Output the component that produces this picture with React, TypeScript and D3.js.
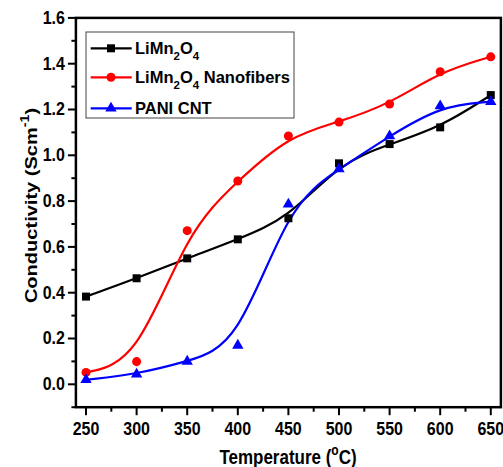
import React from "react";
import * as d3 from "d3";

const W = 503;
const H = 467;
const FONT = "'Liberation Sans', Arial, sans-serif";

// temperature (°C)
const temps = [250, 300, 350, 400, 450, 500, 550, 600, 650];
// conductivity (S cm^-1)
const limn2o4 = [0.383, 0.463, 0.55, 0.633, 0.725, 0.965, 1.049, 1.122, 1.263];
const nanofibers = [0.052, 0.099, 0.671, 0.888, 1.084, 1.145, 1.224, 1.365, 1.43];
const paniCnt = [0.02, 0.044, 0.1, 0.17, 0.786, 0.94, 1.084, 1.215, 1.234];

const xTicks = [250, 300, 350, 400, 450, 500, 550, 600, 650];
const yTicks = [0.0, 0.2, 0.4, 0.6, 0.8, 1.0, 1.2, 1.4, 1.6];

const series = [
  { key: "limn", values: limn2o4, color: "#000000", symbol: d3.symbolSquare, size: 64 },
  { key: "nano", values: nanofibers, color: "#ff0000", symbol: d3.symbolCircle, size: 64 },
  { key: "pani", values: paniCnt, color: "#0000ff", symbol: d3.symbolTriangle, size: 56 },
];

const x = d3.scaleLinear().domain([240, 660]).range([75.9, 500.9]);
const y = d3.scaleLinear().domain([-0.1, 1.6]).range([407.2, 17.9]);

const xMinor = d3.range(275, 650, 50);
const yMinor = d3.range(-0.1, 1.6, 0.2);

const App = () => {
  const line = d3
    .line<[number, number]>()
    .x((d) => x(d[0]))
    .y((d) => y(d[1]))
    .curve(d3.curveBasis);

  const sym = (s: typeof series[number]) => d3.symbol().type(s.symbol).size(s.size)() || "";

  const legendRows = [
    { s: series[0], label: (
      <>LiMn<tspan fontSize={11.5} dy={6}>2</tspan><tspan dy={-6}>O</tspan><tspan fontSize={11.5} dy={6}>4</tspan></>
    ) },
    { s: series[1], label: (
      <>LiMn<tspan fontSize={11.5} dy={6}>2</tspan><tspan dy={-6}>O</tspan><tspan fontSize={11.5} dy={6}>4</tspan><tspan dy={-6}> Nanofibers</tspan></>
    ) },
    { s: series[2], label: <>PANI CNT</> },
  ];
  const legendY = [48.3, 77.3, 108.3];

  return (
    <div style={{ position: "absolute", left: 0, top: 0 }}>
      <svg width={W} height={H} fontFamily={FONT} fontWeight="bold">
        <rect width={W} height={H} fill="#ffffff" />

        {/* curves */}
        {series.map((s) => (
          <path
            key={s.key + "-line"}
            d={line(temps.map((t, i) => [t, s.values[i]] as [number, number])) || ""}
            fill="none"
            stroke={s.color}
            strokeWidth={2.2}
          />
        ))}
        {series.map((s) =>
          temps.map((t, i) => (
            <path
              key={s.key + "-pt-" + t}
              d={sym(s)}
              transform={`translate(${x(t)},${y(s.values[i])})`}
              fill={s.color}
            />
          ))
        )}

        {/* frame */}
        <rect
          x={x(240)}
          y={y(1.6)}
          width={x(660) - x(240)}
          height={y(-0.1) - y(1.6)}
          fill="none"
          stroke="#000"
          strokeWidth={2.5}
        />

        {/* y axis */}
        {yTicks.map((v) => (
          <g key={"yt" + v}>
            <line x1={x(240) - 8} x2={x(240)} y1={y(v)} y2={y(v)} stroke="#000" strokeWidth={2} />
            <text
              transform={`translate(${x(240) - 11},${y(v) + 5.8}) scale(1,1.12)`}
              textAnchor="end"
              fontSize={16}
            >
              {v.toFixed(1)}
            </text>
          </g>
        ))}
        {yMinor.map((v) => (
          <line key={"ym" + v} x1={x(240) - 4.5} x2={x(240)} y1={y(v)} y2={y(v)} stroke="#000" strokeWidth={2} />
        ))}

        {/* x axis */}
        {xTicks.map((v) => (
          <g key={"xt" + v}>
            <line x1={x(v)} x2={x(v)} y1={y(-0.1)} y2={y(-0.1) + 8} stroke="#000" strokeWidth={2} />
            <text
              transform={`translate(${x(v)},${435}) scale(1,1.12)`}
              textAnchor="middle"
              fontSize={16}
            >
              {v}
            </text>
          </g>
        ))}
        {xMinor.map((v) => (
          <line key={"xm" + v} x1={x(v)} x2={x(v)} y1={y(-0.1)} y2={y(-0.1) + 4.5} stroke="#000" strokeWidth={2} />
        ))}

        {/* axis titles */}
        <text transform={`translate(288,464) scale(1,1.15)`} textAnchor="middle" fontSize={17}>
          Temperature (<tspan fontSize={12} dy={-8}>o</tspan>
          <tspan dy={8}>C)</tspan>
        </text>
        <text transform={`translate(36.5,205.5) scale(1,1.18) rotate(-90)`} textAnchor="middle" fontSize={17}>
          Conductivity (Scm<tspan fontSize={12} dy={-8}>-1</tspan>
          <tspan dy={8}>)</tspan>
        </text>

        {/* legend */}
        <rect x={86} y={32} width={208} height={86} fill="#fff" stroke="#444" strokeWidth={1} />
        {legendRows.map((r, i) => (
          <g key={"lg" + i}>
            <line x1={90.7} x2={131.7} y1={legendY[i]} y2={legendY[i]} stroke={r.s.color} strokeWidth={2.2} />
            <path d={sym(r.s)} transform={`translate(111,${legendY[i]})`} fill={r.s.color} />
            <text x={135} y={legendY[i] + 5.5} fontSize={16.5}>
              {r.label}
            </text>
          </g>
        ))}
      </svg>
    </div>
  );
};

export default App;
